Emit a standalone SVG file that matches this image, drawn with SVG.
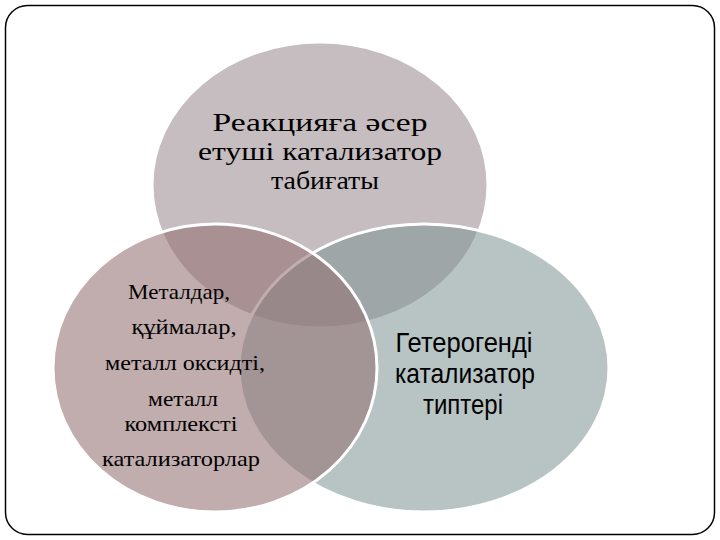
<svg xmlns="http://www.w3.org/2000/svg" width="720" height="540" viewBox="0 0 720 540">
<style>
.c{stroke:#ffffff;stroke-width:3}
.serif{font-family:"Liberation Serif","Times New Roman",serif;fill:#000;text-anchor:middle}
.sans{font-family:"Liberation Sans Narrow","Liberation Sans",Arial,sans-serif;fill:#000;text-anchor:middle}
</style>
<rect x="5.5" y="5.5" width="709" height="529" rx="22" ry="22" fill="#ffffff" stroke="#000" stroke-width="1.5"/>
<g id="node-top">
<ellipse class="c" cx="320" cy="185" rx="168" ry="143" fill="#c5bdbf"/>
<text class="serif" font-size="26" x="320" y="131" textLength="215" lengthAdjust="spacingAndGlyphs">Реакцияға әсер</text>
<text class="serif" font-size="26" x="320" y="160" textLength="244" lengthAdjust="spacingAndGlyphs">етуші катализатор</text>
<text class="serif" font-size="26" x="325" y="189" textLength="108" lengthAdjust="spacingAndGlyphs">табиғаты</text>
</g>
<g id="node-right">
<ellipse class="c" cx="424" cy="368" rx="185" ry="144" fill="rgb(125,147,147)" fill-opacity="0.55"/>
<text class="sans" font-size="27.5" x="464" y="352" textLength="137" lengthAdjust="spacingAndGlyphs">Гетерогенді</text>
<text class="sans" font-size="27.5" x="465" y="383" textLength="140" lengthAdjust="spacingAndGlyphs">катализатор</text>
<text class="sans" font-size="27.5" x="463" y="414" textLength="80" lengthAdjust="spacingAndGlyphs">типтері</text>
</g>
<g id="node-left">
<ellipse class="c" cx="215" cy="368" rx="162" ry="144" fill="rgb(148,114,116)" fill-opacity="0.58"/>
<text class="serif" font-size="22" x="179" y="299" textLength="102" lengthAdjust="spacingAndGlyphs">Металдар,</text>
<text class="serif" font-size="22" x="184" y="334" textLength="105" lengthAdjust="spacingAndGlyphs">құймалар,</text>
<text class="serif" font-size="22" x="185" y="370" textLength="160" lengthAdjust="spacingAndGlyphs">металл оксидті,</text>
<text class="serif" font-size="22" x="183" y="406" textLength="70" lengthAdjust="spacingAndGlyphs">металл</text>
<text class="serif" font-size="22" x="181" y="431" textLength="113" lengthAdjust="spacingAndGlyphs">комплексті</text>
<text class="serif" font-size="22" x="181" y="466" textLength="158" lengthAdjust="spacingAndGlyphs">катализаторлар</text>
</g>
<g id="connectors"/>
</svg>
